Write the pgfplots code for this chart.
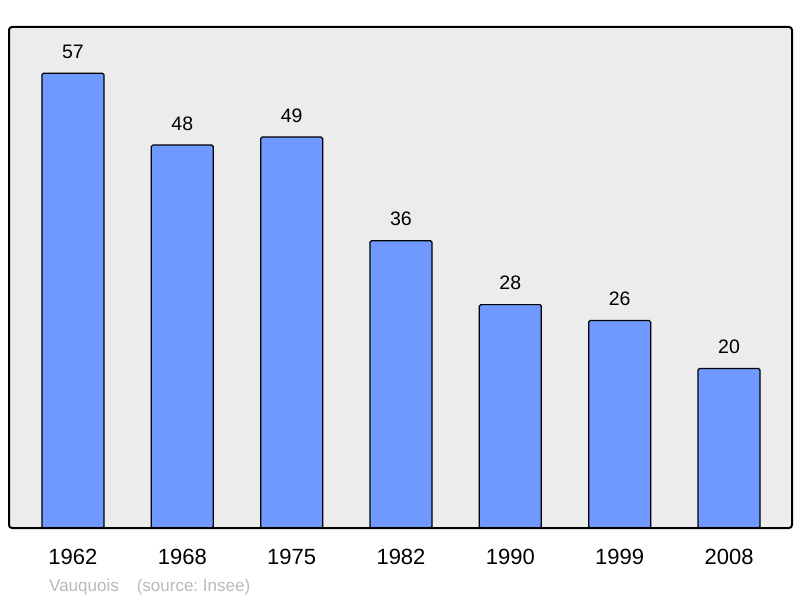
\documentclass[border=0pt]{standalone}
\usepackage{pgfplots}
\pgfplotsset{compat=1.18}
\usepackage{fontspec}
\setmainfont{Liberation Sans}
\definecolor{barblue}{RGB}{112,153,255}
\definecolor{plotbg}{RGB}{236,236,236}
\definecolor{footgray}{RGB}{185,185,185}

\begin{document}
\begin{tikzpicture}[x=1pt,y=1pt]
% page frame: 800 x 598
\path (-9,-70) rectangle (791,528);
\begin{axis}[
  at={(0,0)}, anchor=south west,
  scale only axis, width=783pt, height=501pt,
  xmin=-0.585, xmax=6.576, ymin=0, ymax=62.8,
  ybar, bar width=62pt, bar shift=0pt,
  axis line style={draw=none},
  axis background/.style={fill=plotbg},
  xtick=data, xticklabels={1962,1968,1975,1982,1990,1999,2008},
  ytick=\empty, major tick length=0pt,
  xticklabel style={font=\fontsize{22}{22}\selectfont, anchor=base, yshift=-36pt},
  /pgf/number format/assume math mode=true,
  nodes near coords,
  nodes near coords style={font=\fontsize{19.5}{19.5}\selectfont, anchor=base, yshift=15pt},
  clip=false,
]
\addplot[fill=barblue, draw=black, line width=1.2pt, rounded corners=1.5pt] coordinates {
  (0,57) (1,48) (2,49) (3,36) (4,28) (5,26) (6,20)};
\draw[line width=2pt, rounded corners=3pt] (rel axis cs:0,0) rectangle (rel axis cs:1,1);
\end{axis}
\node[anchor=base west, text=footgray, font=\fontsize{17}{17}\selectfont, inner sep=0pt]
  at (40,-63) {Vauquois\hspace{18pt}(source:~Insee)};
\end{tikzpicture}
\end{document}
